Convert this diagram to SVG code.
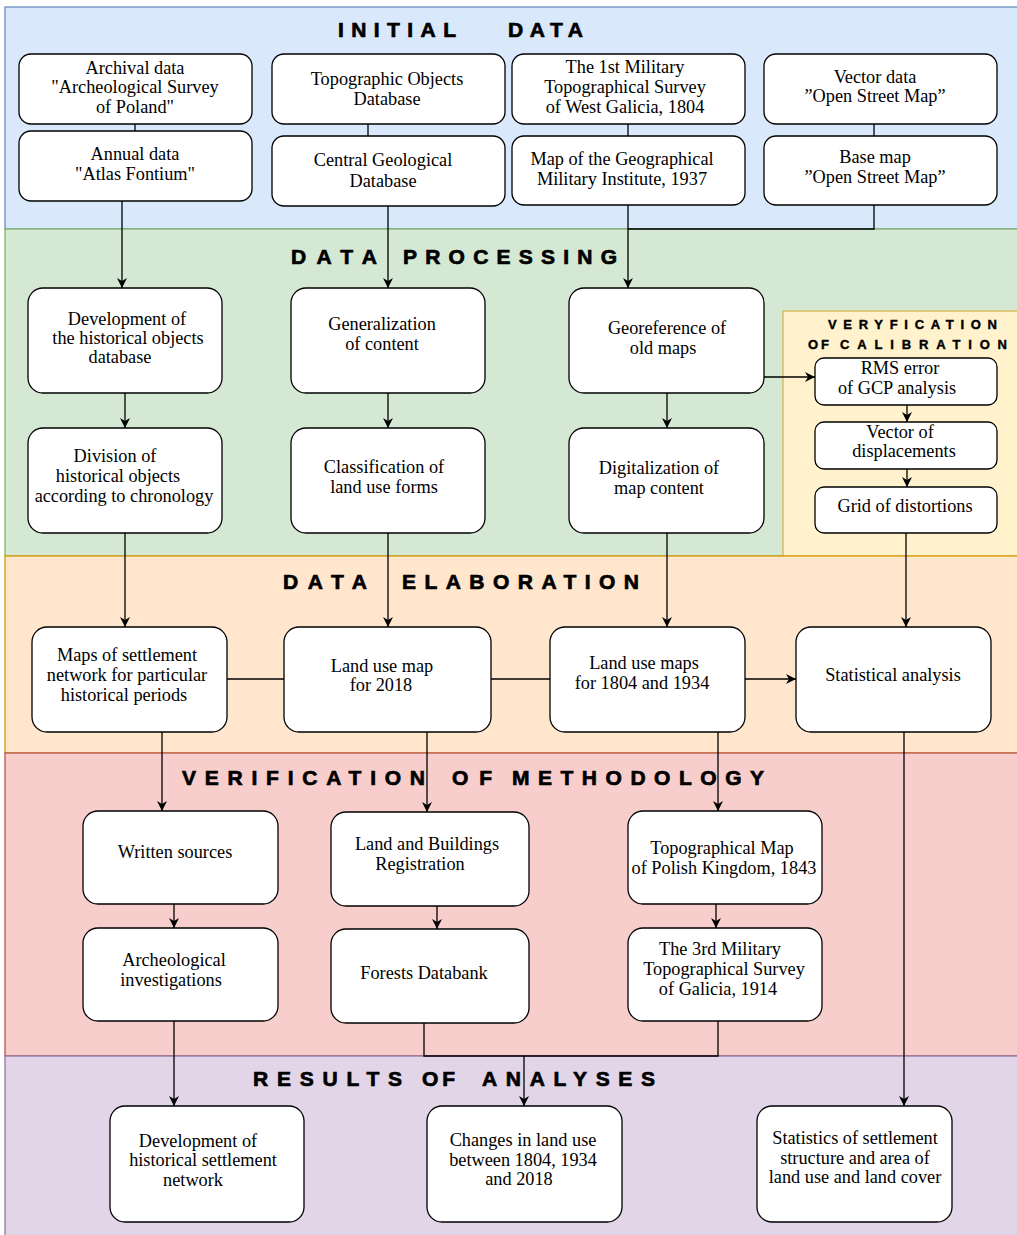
<svg xmlns="http://www.w3.org/2000/svg" width="1017" height="1235" viewBox="0 0 1017 1235">
<style>
.sec{stroke-width:1.3}
.h{font-family:"Liberation Sans",Arial,sans-serif;font-weight:900;font-size:21px;fill:#000;stroke:#000;stroke-width:0.7}
.hs{font-family:"Liberation Sans",Arial,sans-serif;font-weight:900;font-size:13px;fill:#000;stroke:#000;stroke-width:0.4}
.n rect{fill:#fff;stroke:#000;stroke-width:1.3}
.n text{font-family:"Liberation Serif","Times New Roman",serif;font-size:18.3px;fill:#000;text-anchor:middle}
.c path{fill:none;stroke:#000;stroke-width:1.3}
.a{marker-end:url(#arr)}
</style>
<defs>
<marker id="arr" markerUnits="userSpaceOnUse" markerWidth="12" markerHeight="12" refX="10" refY="5" orient="auto">
<path d="M0,0 L10,5 L0,10 L3,5 z" fill="#000"/>
</marker>
</defs>
<g id="sections">
<rect class="sec" x="5" y="7" width="1020" height="222" fill="#dae8fc" stroke="#6c8ebf"/>
<rect class="sec" x="5" y="229" width="1020" height="327" fill="#d5e8d4" stroke="#82b366"/>
<rect class="sec" x="783" y="311" width="240" height="245" fill="#fff2cc" stroke="#d6b656"/>
<rect class="sec" x="5" y="556" width="1020" height="197" fill="#ffe6cc" stroke="#d79b00"/>
<rect class="sec" x="5" y="753" width="1020" height="303" fill="#f8cecc" stroke="#b85450"/>
<rect class="sec" x="5" y="1056" width="1020" height="190" fill="#e1d5e7" stroke="#9673a6"/>
</g>
<g id="headings">
<text class="h" y="37"><tspan x="338" textLength="118" lengthAdjust="spacing">INITIAL</tspan><tspan x="508" textLength="75" lengthAdjust="spacing">DATA</tspan></text>
<text class="h" y="264"><tspan x="291" textLength="86" lengthAdjust="spacing">DATA</tspan><tspan x="403" textLength="214" lengthAdjust="spacing">PROCESSING</tspan></text>
<text class="h" y="589"><tspan x="283" textLength="84" lengthAdjust="spacing">DATA</tspan><tspan x="402" textLength="237" lengthAdjust="spacing">ELABORATION</tspan></text>
<text class="h" y="785"><tspan x="182" textLength="243" lengthAdjust="spacing">VERIFICATION</tspan><tspan x="452" textLength="40" lengthAdjust="spacing">OF</tspan><tspan x="512" textLength="252" lengthAdjust="spacing">METHODOLOGY</tspan></text>
<text class="h" y="1086"><tspan x="253" textLength="149" lengthAdjust="spacing">RESULTS</tspan><tspan x="422" textLength="33" lengthAdjust="spacing">OF</tspan><tspan x="482" textLength="173" lengthAdjust="spacing">ANALYSES</tspan></text>
<text class="hs" y="329"><tspan x="828" textLength="169" lengthAdjust="spacing">VERYFICATION</tspan></text>
<text class="hs" y="349"><tspan x="808" textLength="21" lengthAdjust="spacing">OF</tspan><tspan x="840" textLength="167" lengthAdjust="spacing">CALIBRATION</tspan></text>
</g>
<g id="connectors" class="c">
<path d="M135,124 V131"/>
<path d="M368,124 V136"/>
<path d="M628,124 V136"/>
<path d="M874,124 V136"/>
<path class="a" d="M122,201 V288"/>
<path class="a" d="M388,206 V288"/>
<path class="a" d="M628,205 V288"/>
<path d="M874,205 V229 H628"/>
<path class="a" d="M125,393 V428"/>
<path class="a" d="M388,393 V428"/>
<path class="a" d="M667,393 V428"/>
<path class="a" d="M764,377 H815"/>
<path class="a" d="M907,405 V422"/>
<path class="a" d="M907,469 V487"/>
<path class="a" d="M125,533 V627"/>
<path class="a" d="M388,533 V627"/>
<path class="a" d="M667,533 V627"/>
<path class="a" d="M906,533 V627"/>
<path d="M227,679 H284"/>
<path d="M491,679 H550"/>
<path class="a" d="M745,679 H796"/>
<path class="a" d="M162,732 V811"/>
<path class="a" d="M427,732 V812"/>
<path class="a" d="M718,732 V811"/>
<path class="a" d="M904,732 V1106"/>
<path class="a" d="M174,904 V928"/>
<path class="a" d="M437,906 V929"/>
<path class="a" d="M716,904 V928"/>
<path class="a" d="M174,1021 V1106"/>
<path d="M424,1023 V1056 H718 V1021"/>
<path class="a" d="M524,1056 V1106"/>
</g>
<g id="n-archival" class="n"><rect x="19" y="54" width="233" height="70" rx="12"/><text x="135" y="74">Archival data</text><text x="135" y="93">"Archeological Survey</text><text x="135" y="113">of Poland"</text></g>
<g id="n-annual" class="n"><rect x="19" y="131" width="233" height="70" rx="12"/><text x="135" y="160">Annual data</text><text x="135" y="180">"Atlas Fontium"</text></g>
<g id="n-topobj" class="n"><rect x="272" y="54" width="233" height="70" rx="12"/><text x="387" y="85">Topographic Objects</text><text x="387" y="105">Database</text></g>
<g id="n-geol" class="n"><rect x="272" y="136" width="233" height="70" rx="12"/><text x="383" y="166">Central Geological</text><text x="383" y="187">Database</text></g>
<g id="n-1st" class="n"><rect x="512" y="54" width="233" height="70" rx="12"/><text x="625" y="73">The 1st Military</text><text x="625" y="93">Topographical Survey</text><text x="625" y="113">of West Galicia, 1804</text></g>
<g id="n-wig" class="n"><rect x="512" y="136" width="233" height="69" rx="12"/><text x="622" y="165">Map of the Geographical</text><text x="622" y="185">Military Institute, 1937</text></g>
<g id="n-vector" class="n"><rect x="764" y="54" width="233" height="70" rx="12"/><text x="875" y="83">Vector data</text><text x="875" y="102">”Open Street Map”</text></g>
<g id="n-base" class="n"><rect x="764" y="136" width="233" height="69" rx="12"/><text x="875" y="163">Base map</text><text x="875" y="183">”Open Street Map”</text></g>
<g id="n-devdb" class="n"><rect x="28" y="288" width="194" height="105" rx="15"/><text x="127" y="325">Development of</text><text x="128" y="344">the historical objects</text><text x="120" y="363">database</text></g>
<g id="n-division" class="n"><rect x="28" y="428" width="194" height="105" rx="15"/><text x="115" y="462">Division of</text><text x="118" y="482">historical objects</text><text x="124" y="502">according to chronology</text></g>
<g id="n-gen" class="n"><rect x="291" y="288" width="194" height="105" rx="15"/><text x="382" y="330">Generalization</text><text x="382" y="350">of content</text></g>
<g id="n-class" class="n"><rect x="291" y="428" width="194" height="105" rx="15"/><text x="384" y="473">Classification of</text><text x="384" y="493">land use forms</text></g>
<g id="n-georef" class="n"><rect x="569" y="288" width="195" height="105" rx="15"/><text x="667" y="334">Georeference of</text><text x="663" y="354">old maps</text></g>
<g id="n-digit" class="n"><rect x="569" y="428" width="195" height="105" rx="15"/><text x="659" y="474">Digitalization of</text><text x="659" y="494">map content</text></g>
<g id="n-rms" class="n"><rect x="815" y="358" width="182" height="47" rx="9"/><text x="900" y="374">RMS error</text><text x="897" y="394">of GCP analysis</text></g>
<g id="n-vecdisp" class="n"><rect x="815" y="422" width="182" height="47" rx="9"/><text x="900" y="438">Vector of</text><text x="904" y="457">displacements</text></g>
<g id="n-grid" class="n"><rect x="815" y="487" width="182" height="46" rx="9"/><text x="905" y="512">Grid of distortions</text></g>
<g id="n-mapsset" class="n"><rect x="32" y="627" width="195" height="105" rx="15"/><text x="127" y="661">Maps of settlement</text><text x="127" y="681">network for particular</text><text x="124" y="701">historical periods</text></g>
<g id="n-lu2018" class="n"><rect x="284" y="627" width="207" height="105" rx="15"/><text x="382" y="672">Land use map</text><text x="381" y="691">for 2018</text></g>
<g id="n-lu1804" class="n"><rect x="550" y="627" width="195" height="105" rx="15"/><text x="644" y="669">Land use maps</text><text x="642" y="689">for 1804 and 1934</text></g>
<g id="n-stat" class="n"><rect x="796" y="627" width="195" height="105" rx="15"/><text x="893" y="681">Statistical analysis</text></g>
<g id="n-written" class="n"><rect x="83" y="811" width="195" height="93" rx="15"/><text x="175" y="858">Written sources</text></g>
<g id="n-arch" class="n"><rect x="83" y="928" width="195" height="93" rx="15"/><text x="174" y="966">Archeological</text><text x="171" y="986">investigations</text></g>
<g id="n-lbr" class="n"><rect x="331" y="812" width="198" height="94" rx="15"/><text x="427" y="850">Land and Buildings</text><text x="420" y="870">Registration</text></g>
<g id="n-forest" class="n"><rect x="331" y="929" width="198" height="94" rx="15"/><text x="424" y="979">Forests Databank</text></g>
<g id="n-topomap" class="n"><rect x="628" y="811" width="194" height="93" rx="15"/><text x="722" y="854">Topographical Map</text><text x="724" y="874">of Polish Kingdom, 1843</text></g>
<g id="n-3rd" class="n"><rect x="628" y="928" width="194" height="93" rx="15"/><text x="720" y="955">The 3rd Military</text><text x="724" y="975">Topographical Survey</text><text x="718" y="995">of Galicia, 1914</text></g>
<g id="n-devhist" class="n"><rect x="110" y="1106" width="194" height="116" rx="15"/><text x="198" y="1147">Development of</text><text x="203" y="1166">historical settlement</text><text x="193" y="1186">network</text></g>
<g id="n-changes" class="n"><rect x="427" y="1106" width="195" height="116" rx="15"/><text x="523" y="1146">Changes in land use</text><text x="523" y="1166">between 1804, 1934</text><text x="519" y="1185">and 2018</text></g>
<g id="n-stats" class="n"><rect x="757" y="1106" width="195" height="116" rx="15"/><text x="855" y="1144">Statistics of settlement</text><text x="855" y="1164">structure and area of</text><text x="855" y="1183">land use and land cover</text></g>
</svg>
